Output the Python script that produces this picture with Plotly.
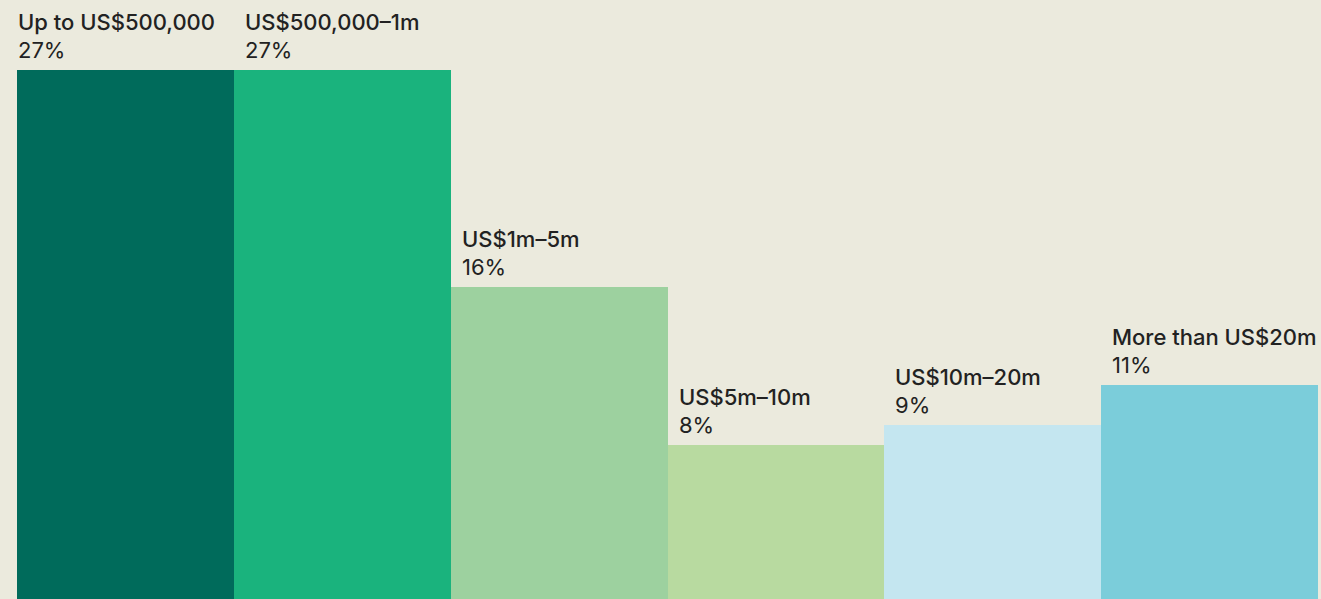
import plotly.graph_objects as go

categories = ["Up to US$500,000", "US$500,000–1m", "US$1m–5m", "US$5m–10m", "US$10m–20m", "More than US$20m"]
values = [27.0, 27.0, 15.95, 7.86, 8.88, 10.92]
pct_labels = ["27%", "27%", "16%", "8%", "9%", "11%"]
colors = ["#006B5B", "#1AB37D", "#9DD19F", "#B8DAA0", "#C4E6F0", "#7BCDDA"]

BG = "#EBEADD"
TXT = "#222222"
FONT = "Inter"

xs = list(range(len(categories)))

fig = go.Figure(go.Bar(
    x=xs, y=values, marker=dict(color=colors, line=dict(width=0)),
    width=1.0, hoverinfo="skip",
))

annotations = []
for i, (cat, v, p) in enumerate(zip(categories, values, pct_labels)):
    shift = -1 if i == 0 else 9
    annotations.append(dict(
        x=i - 0.5, y=v, xref="x", yref="y", xanchor="left", yanchor="bottom",
        text=p, showarrow=False, xshift=shift, yshift=5,
        font=dict(family=FONT, size=22, color=TXT, weight=400),
    ))
    annotations.append(dict(
        x=i - 0.5, y=v, xref="x", yref="y", xanchor="left", yanchor="bottom",
        text=cat, showarrow=False, xshift=shift, yshift=33,
        font=dict(family=FONT, size=22, color=TXT, weight=500),
    ))

fig.update_layout(
    width=1321, height=599,
    paper_bgcolor=BG, plot_bgcolor=BG,
    margin=dict(l=17, r=3, t=0, b=0),
    bargap=0, showlegend=False,
    xaxis=dict(range=[-0.5, 5.5], visible=False, fixedrange=True),
    yaxis=dict(range=[0, 30.58], visible=False, fixedrange=True),
    annotations=annotations,
)

post = ("document.body.style.margin='0';document.body.style.padding='0';"
        "document.body.style.overflow='hidden';document.body.style.background='" + BG + "';")

fig.write_html("out.html", post_script=post, config={"displayModeBar": False})
